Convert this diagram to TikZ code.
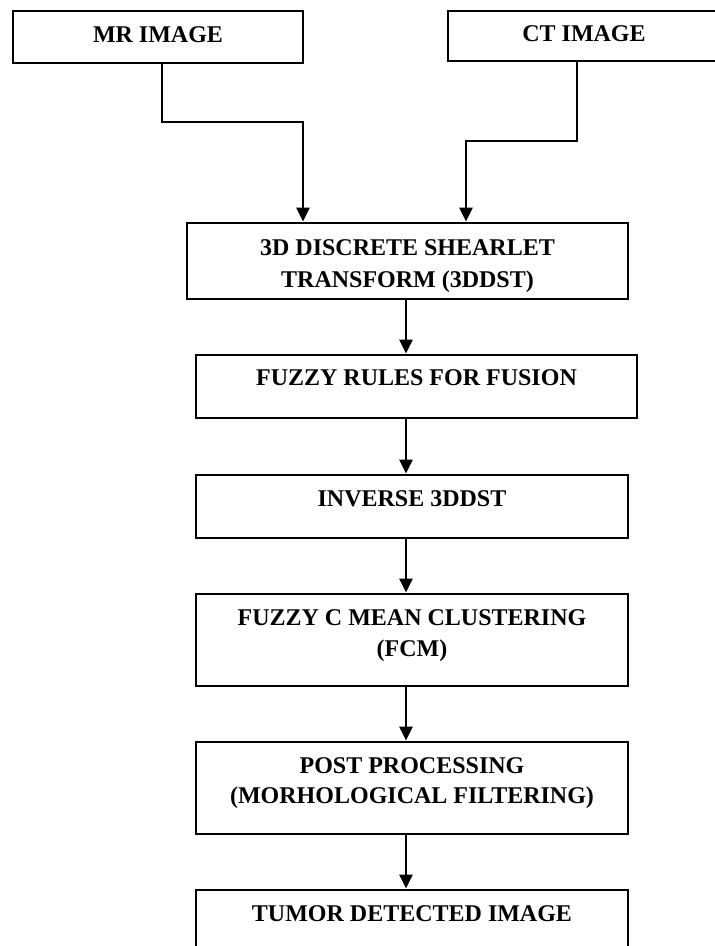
\documentclass[tikz,border=0pt]{standalone}
\usepackage{fontspec}
\setmainfont{Liberation Serif}
\usetikzlibrary{arrows.meta}
\tikzset{
  box/.style={draw=black, line width=2.8pt, rectangle, inner sep=0pt, fill=white},
  lbl/.style={anchor=base, inner sep=0pt, font=\bfseries\fontsize{24}{30}\selectfont},
  arr/.style={line width=2.8pt, -{Triangle[length=14pt,width=13pt]}}
}
\begin{document}
\begin{tikzpicture}[x=1pt,y=-1pt]
\fill[white] (0,0) rectangle (715,946);
\useasboundingbox (0,0) rectangle (715,946);
% boxes
\node[box, minimum width=290pt, minimum height=52pt] (mr)   at (158,37) {};
\node[box, minimum width=272pt, minimum height=50pt] (ct)   at (584,36) {};
\node[box, minimum width=441pt, minimum height=76pt] (dst)  at (407.5,261) {};
\node[box, minimum width=441pt, minimum height=63pt] (fuz)  at (416.5,386.5) {};
\node[box, minimum width=432pt, minimum height=63pt] (inv)  at (412,506.5) {};
\node[box, minimum width=432pt, minimum height=92pt] (fcm)  at (412,640) {};
\node[box, minimum width=432pt, minimum height=92pt] (post) at (412,788) {};
\node[box, minimum width=432pt, minimum height=65pt] (tum)  at (412,922.5) {};
% texts
\node[lbl] (mrt)   at (158,42) {MR IMAGE};
\node[lbl] (ctt)   at (584,41) {CT IMAGE};
\node[lbl] (dsta)  at (407.5,255.5) {3D DISCRETE SHEARLET};
\node[lbl] (dstb)  at (407.5,287) {TRANSFORM (3DDST)};
\node[lbl] (fuzt)  at (416.5,385.7) {FUZZY RULES FOR FUSION};
\node[lbl] (invt)  at (412,506) {INVERSE 3DDST};
\node[lbl] (fcma)  at (412,625) {FUZZY C MEAN CLUSTERING};
\node[lbl] (fcmb)  at (412,656.5) {(FCM)};
\node[lbl] (posta) at (412,773.5) {POST PROCESSING};
\node[lbl] (postb) at (412,803.5) {(MORHOLOGICAL FILTERING)};
\node[lbl] (tumt)  at (412,921) {TUMOR DETECTED IMAGE};
% connectors
\coordinate (mrturn) at (303,122);
\coordinate (ctturn) at (466,141);
\coordinate (spine) at (406,0);
\draw[arr] ([xshift=4pt]mr.south) |- (mrturn) -- (mrturn |- dst.north);
\draw[arr] ([xshift=-7pt]ct.south) |- (ctturn) -- (ctturn |- dst.north);
\draw[arr] (dst.south -| spine) -- (fuz.north -| spine);
\draw[arr] (fuz.south -| spine) -- (inv.north -| spine);
\draw[arr] (inv.south -| spine) -- (fcm.north -| spine);
\draw[arr] (fcm.south -| spine) -- (post.north -| spine);
\draw[arr] (post.south -| spine) -- (tum.north -| spine);
\end{tikzpicture}
\end{document}
